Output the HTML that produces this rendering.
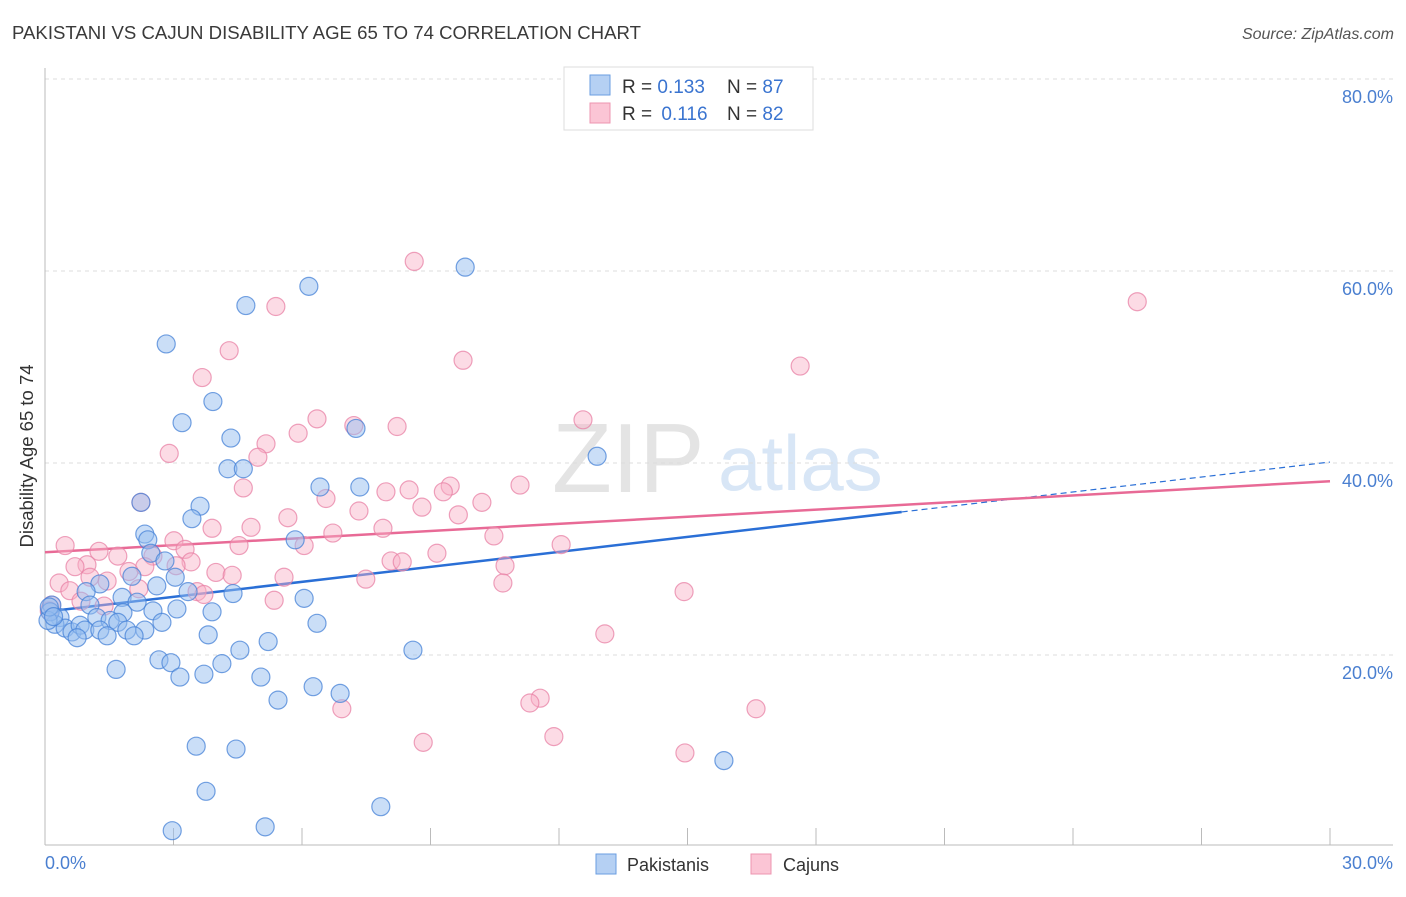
<!DOCTYPE html>
<html><head><meta charset="utf-8"><style>
body{margin:0;background:#fff;font-family:"Liberation Sans",sans-serif}
svg text{font-family:"Liberation Sans",sans-serif}
</style></head><body>
<svg width="1406" height="892" xmlns="http://www.w3.org/2000/svg">
<text x="12" y="39" font-size="18.6" fill="#3a3a3a">PAKISTANI VS CAJUN DISABILITY AGE 65 TO 74 CORRELATION CHART</text>
<text x="1394" y="39" font-size="16" fill="#555" font-style="italic" text-anchor="end">Source: ZipAtlas.com</text>
<g>
<text x="552" y="492" font-size="98" fill="#e4e4e4" font-family="Liberation Serif,serif">ZIP</text>
<text x="718" y="490" font-size="78" fill="#d8e6f6">atlas</text>
</g>
<g id="grid"></g>
<g id="axes"></g>
<g id="trend"></g>
<g id="pts"></g>
<text transform="translate(33,456) rotate(-90)" font-size="18.5" fill="#333" text-anchor="middle">Disability Age 65 to 74</text>
<g>
<rect x="564" y="67" width="249" height="63" fill="#fff" stroke="#ddd"/>
<rect x="590" y="75" width="20" height="20" fill="#b5d0f3" stroke="#6a9ee0"/>
<rect x="590" y="103" width="20" height="20" fill="#fbc5d5" stroke="#ec95b0"/>
<text x="622" y="93" font-size="19" fill="#333">R = <tspan fill="#3a74d0">0.133</tspan></text>
<text x="727" y="93" font-size="19" fill="#333">N = <tspan fill="#3a74d0">87</tspan></text>
<text x="622" y="120" font-size="19" fill="#333">R = <tspan fill="#3a74d0" dx="4">0.116</tspan></text>
<text x="727" y="120" font-size="19" fill="#333">N = <tspan fill="#3a74d0">82</tspan></text>
</g>
<g>
<rect x="596" y="854" width="20" height="20" fill="#b5d0f3" stroke="#6a9ee0"/>
<text x="627" y="871" font-size="18" fill="#333">Pakistanis</text>
<rect x="751" y="854" width="20" height="20" fill="#fbc5d5" stroke="#ec95b0"/>
<text x="783" y="871" font-size="18" fill="#333">Cajuns</text>
</g>
</svg>
<script>
const yTicks=[20,40,60,80];
const yTickLabels=["20.0%","40.0%","60.0%","80.0%"];
const xTickVals=[0,3,6,9,12,15,18,21,24,27,30];
const blueX=[9.81,6.16,4.69,2.83,3.92,3.20,4.34,7.26,4.27,4.63,12.89,6.42,7.35,2.24,3.62,3.43,2.33,2.40,5.84,2.47,2.80,3.04,2.03,1.28,2.61,3.34,4.39,6.05,1.80,0.96,2.15,1.05,2.52,3.08,3.90,1.82,1.21,1.52,1.70,2.73,6.35,0.35,0.23,0.47,0.63,0.82,0.93,0.75,1.28,1.91,2.33,1.45,2.08,3.81,5.21,4.55,8.59,2.66,2.94,4.13,1.66,3.15,3.71,5.04,6.26,6.89,5.44,3.53,4.46,15.85,3.76,7.84,2.97,5.14,0.16,0.12,0.07,0.1,0.2];
const blueY=[60.4,58.4,56.4,52.4,46.4,44.2,42.6,43.6,39.4,39.4,40.7,37.5,37.5,35.9,35.5,34.2,32.6,32.0,32.0,30.6,29.8,28.1,28.2,27.4,27.2,26.6,26.4,25.9,26.0,26.6,25.5,25.2,24.6,24.8,24.5,24.4,23.9,23.6,23.4,23.4,23.3,23.9,23.2,22.8,22.4,23.1,22.6,21.8,22.6,22.6,22.6,22.0,22.0,22.1,21.4,20.5,20.5,19.5,19.2,19.1,18.5,17.7,18.0,17.7,16.7,16.0,15.3,10.5,10.2,9.0,5.8,4.2,1.7,2.1,25.2,24.5,23.6,25.0,24.0];
const pinkX=[8.62,25.50,5.39,4.30,9.76,17.63,3.67,12.56,6.35,7.21,8.22,5.91,5.16,4.97,2.90,4.63,11.09,9.46,7.96,8.50,9.30,6.56,10.20,8.80,7.33,9.65,5.67,3.90,4.81,6.72,7.89,10.48,3.01,6.05,4.53,0.47,12.05,3.27,1.26,1.70,9.15,2.52,8.08,8.34,3.41,3.06,2.33,0.98,0.70,10.74,1.96,3.99,4.37,5.58,7.49,1.45,1.05,0.33,10.69,2.19,0.58,3.55,3.71,14.92,0.84,5.35,1.38,13.07,6.93,11.56,11.32,16.60,11.88,8.83,14.94,0.15,0.1,2.24];
const pinkY=[61.0,56.8,56.3,51.7,50.7,50.1,48.9,44.5,44.6,43.9,43.8,43.1,42.0,40.6,41.0,37.4,37.7,37.6,37.0,37.2,37.0,36.3,35.9,35.4,35.0,34.6,34.3,33.2,33.3,32.7,33.2,32.4,31.9,31.4,31.4,31.4,31.5,31.0,30.8,30.3,30.6,30.3,29.8,29.7,29.7,29.3,29.2,29.4,29.2,29.3,28.7,28.6,28.3,28.1,27.9,27.7,28.1,27.5,27.5,26.9,26.7,26.6,26.3,26.6,25.6,25.7,25.1,22.2,14.4,15.5,15.0,14.4,11.5,10.9,9.8,25.2,24.6,35.9];
const blueTrend=[24.5,40.1], blueSolidEnd=20.0;
const pinkTrend=[30.7,38.1];
const X=v=>45+v*(1285/30), Y=v=>847-v*9.6;
const NS="http://www.w3.org/2000/svg";
function mk(p,t,a){const e=document.createElementNS(NS,t);for(const k in a)e.setAttribute(k,a[k]);p.appendChild(e);return e;}
const grid=document.getElementById('grid'),axes=document.getElementById('axes');
yTicks.forEach((v,i)=>{
 const l=mk(grid,'line',{x1:45,x2:1393,y1:Y(v),y2:Y(v),stroke:'#ddd','stroke-dasharray':'4,4'});
 
 
 const t=mk(axes,'text',{x:1393,y:Y(v)+24,'font-size':18,fill:'#4a7fd0','text-anchor':'end'});t.textContent=yTickLabels[i];
 
 
});
mk(axes,'line',{x1:45,x2:45,y1:68,y2:845,stroke:'#bbb'});
mk(axes,'line',{x1:45,x2:1393,y1:845,y2:845,stroke:'#bbb'});
xTickVals.forEach(v=>{const t=mk(axes,'line',{x1:X(v),x2:X(v),y1:828,y2:845,stroke:'#bbb'});
 
 });
let t=mk(axes,'text',{x:45,y:869,'font-size':18,fill:'#4a7fd0'});t.textContent='0.0%';


t=mk(axes,'text',{x:1393,y:869,'font-size':18,fill:'#4a7fd0','text-anchor':'end'});t.textContent='30.0%';


const pts=document.getElementById('pts');
pinkX.forEach((x,i)=>{const c=mk(pts,'circle',{cx:X(x),cy:Y(pinkY[i]),r:9,fill:'rgba(248,175,198,0.45)',stroke:'rgba(232,130,165,0.75)','stroke-width':1.2});
 
 });
blueX.forEach((x,i)=>{const c=mk(pts,'circle',{cx:X(x),cy:Y(blueY[i]),r:9,fill:'rgba(150,190,240,0.5)',stroke:'rgba(70,130,215,0.75)','stroke-width':1.2});
 
 });
const tr=document.getElementById('trend');
const by=v=>blueTrend[0]+(blueTrend[1]-blueTrend[0])*v/30;
let l=mk(tr,'line',{x1:X(0),y1:Y(blueTrend[0]),x2:X(blueSolidEnd),y2:Y(by(blueSolidEnd)),stroke:'#2a6fd6','stroke-width':2.5});


l=mk(tr,'line',{x1:X(blueSolidEnd),y1:Y(by(blueSolidEnd)),x2:X(30),y2:Y(blueTrend[1]),stroke:'#2a6fd6','stroke-width':1.2,'stroke-dasharray':'6,4'});


l=mk(tr,'line',{x1:X(0),y1:Y(pinkTrend[0]),x2:X(30),y2:Y(pinkTrend[1]),stroke:'#e86a96','stroke-width':2.5});


</script>
</body></html>
